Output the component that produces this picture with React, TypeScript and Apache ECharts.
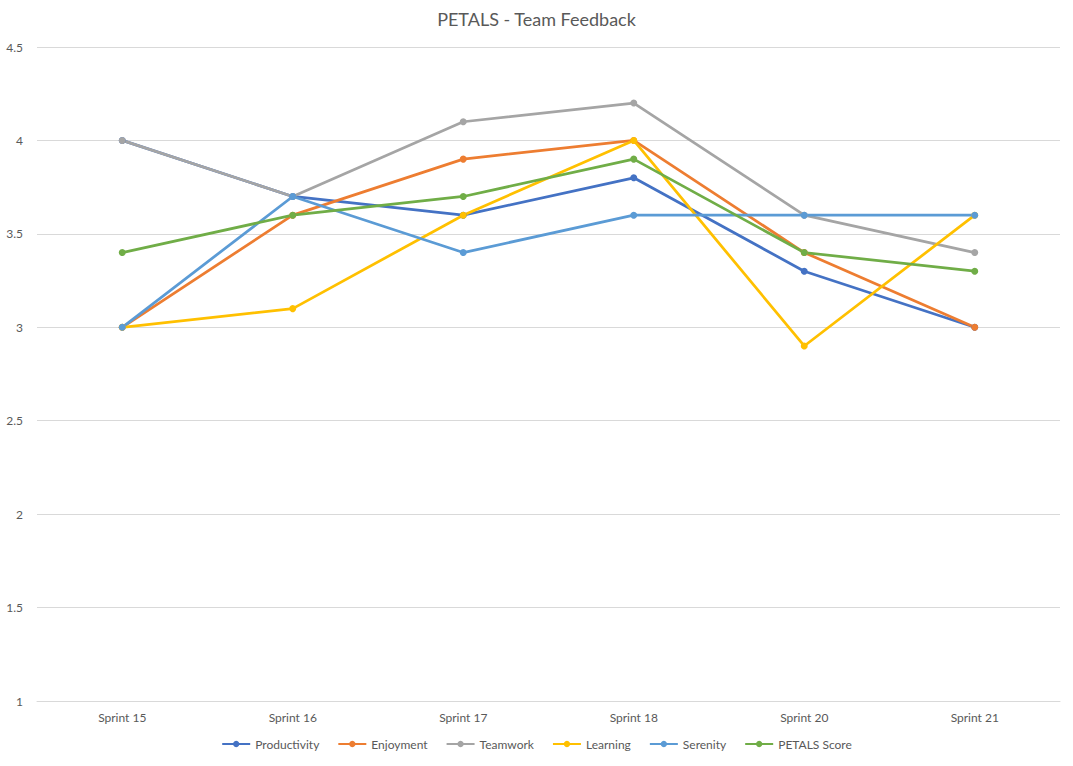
import React, { useEffect, useRef } from "react";
import * as echarts from "echarts";

const sprints = ["Sprint 15", "Sprint 16", "Sprint 17", "Sprint 18", "Sprint 20", "Sprint 21"];

const productivity = [4.0, 3.7, 3.6, 3.8, 3.3, 3.0];
const enjoyment = [3.0, 3.6, 3.9, 4.0, 3.4, 3.0];
const teamwork = [4.0, 3.7, 4.1, 4.2, 3.6, 3.4];
const learning = [3.0, 3.1, 3.6, 4.0, 2.9, 3.6];
const serenity = [3.0, 3.7, 3.4, 3.6, 3.6, 3.6];
const petalsScore = [3.4, 3.6, 3.7, 3.9, 3.4, 3.3];

const seriesList = [
  { name: "Productivity", data: productivity, color: "#4472C4" },
  { name: "Enjoyment", data: enjoyment, color: "#ED7D31" },
  { name: "Teamwork", data: teamwork, color: "#A5A5A5" },
  { name: "Learning", data: learning, color: "#FFC000" },
  { name: "Serenity", data: serenity, color: "#5B9BD5" },
  { name: "PETALS Score", data: petalsScore, color: "#70AD47" },
];

const FONT = "Lato, 'Liberation Sans', sans-serif";

const App: React.FC = () => {
  const chartRef = useRef<HTMLDivElement>(null);

  useEffect(() => {
    if (!chartRef.current) return;
    const chart = echarts.init(chartRef.current, undefined, { renderer: "svg" });

    const option = {
      animation: false,
      backgroundColor: "#ffffff",
      title: {
        text: "PETALS - Team Feedback",
        left: "center",
        top: 5,
        textStyle: { fontFamily: FONT, fontSize: 18, fontWeight: "normal", color: "#595959" },
      },
      legend: {
        bottom: 11,
        left: "center",
        itemWidth: 28,
        itemHeight: 8,
        itemGap: 18,
        textStyle: { fontFamily: FONT, fontSize: 12, color: "#595959" },
        data: seriesList.map((s) => s.name),
      },
      grid: { left: 37, right: 13, top: 47, bottom: 65 },
      xAxis: {
        type: "category",
        data: sprints,
        boundaryGap: true,
        axisLine: { show: true, lineStyle: { color: "#D9D9D9" } },
        axisTick: { show: false },
        axisLabel: { fontFamily: FONT, fontSize: 12, color: "#595959", margin: 10 },
      },
      yAxis: {
        type: "value",
        min: 1,
        max: 4.5,
        interval: 0.5,
        axisLine: { show: false },
        axisTick: { show: false },
        axisLabel: { fontFamily: FONT, fontSize: 12, color: "#595959", margin: 14 },
        splitLine: { lineStyle: { color: "#D9D9D9", width: 1 } },
      },
      series: seriesList.map((s) => ({
        name: s.name,
        type: "line",
        data: s.data,
        symbol: "circle",
        symbolSize: 7,
        showSymbol: true,
        lineStyle: { width: 2.75, color: s.color },
        itemStyle: { color: s.color },
      })),
    };

    chart.setOption(option);
    return () => {
      chart.dispose();
    };
  }, []);

  return (
    <div
      ref={chartRef}
      style={{ position: "fixed", left: 0, top: 0, width: "1073px", height: "766px" }}
    />
  );
};

export default App;
